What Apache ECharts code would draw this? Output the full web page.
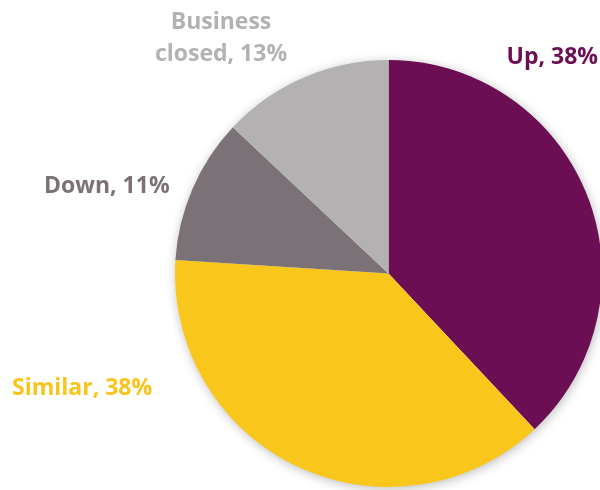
<!DOCTYPE html>
<html>
<head>
<meta charset="utf-8">
<script src="https://cdn.jsdelivr.net/npm/echarts@6/dist/echarts.min.js"></script>
<style>
  html, body { margin: 0; padding: 0; background: #fff; }
  #chart { width: 600px; height: 490px; }
</style>
</head>
<body>
<div id="chart"></div>
<script>
// Share of respondents by change in business activity
const categories = ['Up', 'Similar', 'Down', 'Business\nclosed'];
const shares = [38, 38, 11, 13];
const sliceColors = ['#6B0E53', '#F9C71B', '#7A7276', '#B4B1B3'];
const labelColors = ['#6B0E53', '#F9C41B', '#7A7276', '#B4B1B3'];

// Where each label sits on the canvas: [x, y, align]
const labelSpots = [
  [598, 57, 'right'],
  [12, 388, 'left'],
  [44, 186, 'left'],
  [221, 38, 'center']
];

const chart = echarts.init(document.getElementById('chart'), null, { renderer: 'canvas' });

const center = [388.5, 273.5];
const radius = 213.5;

chart.setOption({
  animation: false,
  series: [
    {
      // soft drop shadow behind the whole pie
      type: 'pie',
      silent: true,
      z: 1,
      center: center,
      radius: radius - 1,
      label: { show: false },
      labelLine: { show: false },
      itemStyle: {
        color: '#fff',
        shadowBlur: 12,
        shadowColor: 'rgba(0,0,0,0.3)',
        shadowOffsetX: 1,
        shadowOffsetY: 2
      },
      data: [{ value: 1 }]
    },
    {
      type: 'pie',
      z: 2,
      center: center,
      radius: radius,
      startAngle: 90,
      clockwise: true,
      data: categories.map((name, i) => ({
        name: name,
        value: shares[i],
        itemStyle: { color: sliceColors[i] },
        label: { color: labelColors[i] }
      })),
      itemStyle: { borderWidth: 0 },
      labelLine: { show: false },
      label: {
        show: true,
        position: 'outside',
        overflow: 'none',
        formatter: p => p.name + ', ' + p.value + '%',
        fontFamily: 'Open Sans',
        fontWeight: 'bold',
        fontSize: 23,
        lineHeight: 32
      },
      labelLayout: p => {
        const s = labelSpots[p.dataIndex];
        return { x: s[0], y: s[1], align: s[2], verticalAlign: 'middle' };
      }
    }
  ]
});
</script>
</body>
</html>
